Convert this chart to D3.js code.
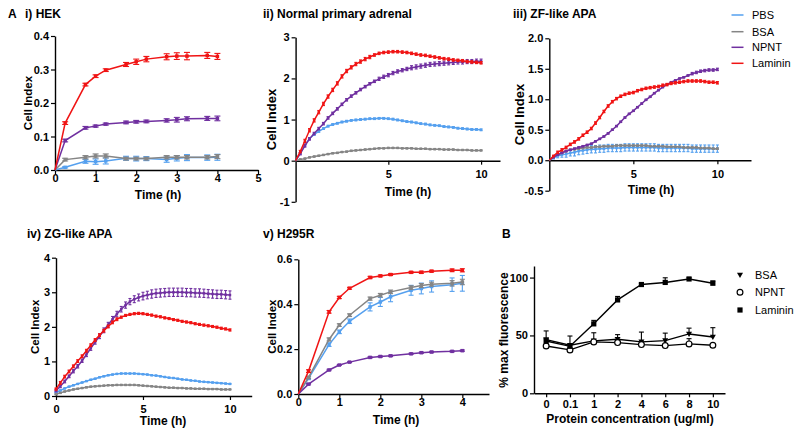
<!DOCTYPE html>
<html lang="en">
<head>
<meta charset="utf-8">
<script src="https://d3js.org/d3.v7.min.js"></script>
<style>
  body { margin: 0; background: #fff; }
  svg text { font-family: "Liberation Sans", Arial, sans-serif; }
</style>
</head>
<body>
<script>

// ---- data ----
let seriesNames = ["PBS", "BSA", "NPNT", "Laminin"];
let seriesColors = ["#55a0ef", "#858585", "#7030a0", "#f01414"];

// sparse time points (panels i and v)
let tShort = [0, 0.25, 0.75, 1, 1.25, 1.75, 2, 2.25, 2.75, 3, 3.25, 3.75, 4];

// dense time points (panels ii, iii, iv)
let tLong = [0, 0.25, 0.5, 0.75, 1, 1.25, 1.5, 1.75, 2, 2.25,
             2.5, 2.75, 3, 3.25, 3.5, 3.75, 4, 4.25, 4.5, 4.75,
             5, 5.25, 5.5, 5.75, 6, 6.25, 6.5, 6.75, 7, 7.25,
             7.5, 7.75, 8, 8.25, 8.5, 8.75, 9, 9.25, 9.5, 9.75, 10];

// i) HEK
let hekPBS     = [0, .008, .026, .025, .027, .035, .034, .034, .031, .035, .037, .037, .038];
let hekPBSErr  = [0, .002, .006, .008, .009, .006, .007, .006, .008, .008, .009, .008, .009];
let hekBSA     = [0, .031, .038, .042, .042, .034, .034, .034, .038, .038, .038, .038, .040];
let hekBSAErr  = [0, .004, .005, .006, .006, .004, .004, .004, .005, .005, .005, .005, .006];
let hekNPNT    = [0, .088, .126, .131, .137, .142, .144, .145, .148, .150, .153, .154, .154];
let hekNPNTErr = [0, .004, .004, .003, .003, .004, .004, .004, .005, .007, .006, .006, .007];
let hekLam     = [0, .140, .255, .280, .298, .315, .323, .331, .338, .340, .340, .342, .339];
let hekLamErr  = [0, .004, .004, .004, .004, .006, .008, .008, .009, .010, .011, .009, .009];

// ii) Normal primary adrenal
let adrPBS = [0, .18, .38, .54, .64, .71, .78, .84, .88, .91,
              .94, .96, .98, .99, 1.0, 1.01, 1.02, 1.02, 1.03, 1.03,
              1.02, 1.01, .99, .97, .95, .94, .92, .9, .89, .87,
              .86, .85, .83, .82, .81, .79, .78, .77, .76, .76, .75];
let adrPBSErr = [0, .02, .02, .02, .02, .02, .02, .02, .02, .02,
                 .02, .02, .02, .02, .02, .02, .02, .02, .02, .02,
                 .02, .02, .02, .02, .02, .02, .02, .02, .02, .02,
                 .02, .02, .02, .02, .02, .02, .02, .02, .02, .02, .02];
let adrBSA = [0, .03, .05, .08, .1, .12, .14, .16, .18, .19,
              .21, .22, .24, .25, .26, .27, .28, .29, .3, .3,
              .31, .31, .31, .3, .3, .3, .29, .29, .29, .28,
              .28, .28, .27, .27, .27, .26, .26, .26, .25, .25, .25];
let adrBSAErr = [0, .01, .01, .01, .01, .01, .01, .01, .01, .01,
                 .01, .01, .01, .01, .01, .01, .01, .01, .01, .01,
                 .01, .01, .01, .01, .01, .01, .01, .01, .01, .01,
                 .01, .01, .01, .01, .01, .01, .01, .01, .01, .01, .01];
let adrNPNT = [0, .17, .36, .53, .66, .78, .9, 1.04, 1.15, 1.26,
               1.37, 1.48, 1.57, 1.65, 1.73, 1.8, 1.87, 1.93, 1.99, 2.04,
               2.08, 2.13, 2.17, 2.2, 2.23, 2.26, 2.28, 2.3, 2.32, 2.34,
               2.35, 2.36, 2.37, 2.38, 2.39, 2.4, 2.4, 2.41, 2.41, 2.42, 2.42];
let adrNPNTErr = [0, .03, .03, .03, .03, .03, .03, .03, .03, .03,
                  .03, .03, .03, .03, .03, .03, .03, .03, .04, .04,
                  .04, .04, .04, .04, .04, .05, .05, .05, .05, .05,
                  .05, .05, .05, .05, .05, .05, .05, .05, .05, .05, .05];
let adrLam = [0, .22, .48, .74, .98, 1.18, 1.38, 1.56, 1.72, 1.88,
              2.05, 2.18, 2.27, 2.35, 2.41, 2.47, 2.52, 2.57, 2.61, 2.63,
              2.64, 2.65, 2.65, 2.64, 2.63, 2.61, 2.59, 2.57, 2.56, 2.54,
              2.52, 2.5, 2.48, 2.47, 2.45, 2.44, 2.43, 2.41, 2.4, 2.39, 2.38];
let adrLamErr = [0, .03, .04, .04, .04, .04, .04, .04, .04, .04,
                 .04, .04, .04, .04, .04, .04, .04, .03, .03, .03,
                 .03, .03, .03, .03, .03, .03, .03, .03, .03, .03,
                 .03, .03, .03, .03, .03, .03, .03, .03, .03, .03, .03];

// iii) ZF-like APA
let zfPBS = [0, .04, .07, .09, .1, .12, .13, .15, .16, .17,
             .18, .18, .19, .19, .2, .2, .2, .2, .21, .21,
             .21, .21, .21, .21, .21, .21, .2, .2, .2, .2,
             .2, .2, .2, .2, .19, .19, .19, .19, .19, .19, .19];
let zfPBSErr = [0, .02, .03, .04, .05, .05, .06, .06, .06, .06,
                .06, .06, .06, .06, .06, .06, .06, .06, .06, .06,
                .06, .06, .06, .06, .06, .06, .06, .06, .06, .06,
                .06, .06, .06, .06, .06, .06, .06, .06, .06, .06, .06];
let zfBSA = [0, .05, .09, .12, .15, .17, .18, .19, .2, .21,
             .21, .22, .22, .23, .23, .23, .24, .24, .24, .24,
             .24, .24, .24, .24, .23, .23, .23, .23, .22, .22,
             .22, .22, .21, .21, .21, .21, .2, .2, .2, .19, .19];
let zfBSAErr = [0, .01, .01, .01, .01, .01, .01, .01, .01, .01,
                .01, .01, .01, .01, .01, .01, .01, .01, .01, .01,
                .01, .01, .01, .01, .01, .01, .01, .01, .01, .01,
                .01, .01, .01, .01, .01, .01, .01, .01, .01, .01, .01];
let zfNPNT = [0, .05, .09, .12, .15, .17, .19, .21, .23, .25,
              .27, .31, .35, .39, .44, .5, .56, .63, .7, .76,
              .81, .87, .93, .99, 1.04, 1.1, 1.15, 1.2, 1.24, 1.28,
              1.31, 1.34, 1.36, 1.39, 1.42, 1.44, 1.46, 1.47, 1.48, 1.48, 1.49];
let zfNPNTErr = [0, .01, .01, .01, .01, .01, .01, .01, .01, .01,
                 .01, .01, .01, .01, .01, .01, .01, .01, .01, .01,
                 .01, .01, .01, .01, .01, .01, .01, .01, .01, .01,
                 .01, .01, .01, .01, .02, .02, .02, .02, .02, .02, .02];
let zfLam = [0, .07, .13, .17, .21, .26, .3, .35, .41, .46,
             .52, .61, .7, .8, .89, .96, 1.01, 1.05, 1.08, 1.1,
             1.11, 1.14, 1.16, 1.18, 1.19, 1.2, 1.21, 1.23, 1.24, 1.26,
             1.27, 1.28, 1.29, 1.3, 1.3, 1.3, 1.3, 1.29, 1.28, 1.28, 1.27];
let zfLamErr = [0, .01, .02, .02, .02, .02, .02, .02, .02, .02,
                .02, .02, .02, .02, .02, .02, .02, .02, .02, .02,
                .02, .02, .02, .02, .02, .02, .02, .02, .02, .02,
                .02, .02, .02, .02, .02, .02, .02, .02, .02, .02, .02];

// iv) ZG-like APA
let zgPBS = [.1, .16, .22, .27, .31, .35, .39, .43, .47, .5,
             .54, .57, .6, .62, .64, .65, .65, .65, .65, .64,
             .63, .62, .6, .59, .57, .55, .53, .52, .5, .48,
             .47, .45, .44, .42, .41, .4, .39, .38, .37, .36, .35];
let zgPBSErr = [.01, .01, .01, .01, .01, .01, .01, .01, .01, .01,
                .01, .01, .01, .01, .01, .01, .01, .01, .01, .01,
                .01, .01, .01, .01, .01, .01, .01, .01, .01, .01,
                .01, .01, .01, .01, .01, .01, .01, .01, .01, .01, .01];
let zgBSA = [.05, .09, .13, .16, .19, .21, .23, .25, .27, .28,
             .29, .3, .31, .31, .32, .32, .32, .32, .32, .31,
             .3, .29, .28, .27, .26, .25, .24, .24, .23, .23,
             .22, .22, .21, .21, .21, .2, .2, .2, .19, .19, .19];
let zgBSAErr = [.01, .01, .01, .01, .01, .01, .01, .01, .01, .01,
                .01, .01, .01, .01, .01, .01, .01, .01, .01, .01,
                .01, .01, .01, .01, .01, .01, .01, .01, .01, .01,
                .01, .01, .01, .01, .01, .01, .01, .01, .01, .01, .01];
let zgNPNT = [.15, .28, .42, .57, .72, .86, 1.02, 1.2, 1.38, 1.56,
              1.73, 1.9, 2.06, 2.22, 2.37, 2.51, 2.63, 2.73, 2.8, 2.85,
              2.89, 2.92, 2.95, 2.97, 2.98, 2.99, 3.0, 3.0, 3.0, 3.0,
              2.99, 2.99, 2.98, 2.98, 2.97, 2.96, 2.95, 2.94, 2.94, 2.93, 2.92];
let zgNPNTErr = [.03, .04, .04, .04, .05, .05, .05, .06, .06, .06,
                 .07, .07, .07, .08, .08, .08, .09, .09, .1, .1,
                 .11, .11, .12, .12, .12, .12, .12, .12, .12, .12,
                 .12, .12, .12, .12, .12, .12, .12, .12, .12, .12, .12];
let zgLam = [.2, .38, .56, .71, .86, 1.01, 1.15, 1.31, 1.47, 1.62,
             1.76, 1.89, 2.01, 2.13, 2.22, 2.28, 2.33, 2.36, 2.38, 2.39,
             2.38, 2.36, 2.34, 2.31, 2.29, 2.26, 2.24, 2.21, 2.19, 2.16,
             2.14, 2.12, 2.09, 2.07, 2.05, 2.03, 2.01, 1.99, 1.96, 1.94, 1.91];
let zgLamErr = [.03, .04, .04, .04, .04, .04, .04, .04, .04, .04,
                .04, .04, .04, .04, .04, .03, .03, .03, .03, .03,
                .03, .03, .03, .03, .03, .03, .03, .03, .03, .03,
                .03, .03, .03, .03, .03, .03, .03, .03, .03, .03, .03];

// v) H295R
let hPBS     = [0, .070, .220, .277, .324, .388, .410, .433, .462, .470, .479, .487, .493];
let hPBSErr  = [0, .006, .008, .008, .010, .018, .020, .022, .022, .024, .025, .030, .035];
let hBSA     = [0, .074, .243, .307, .351, .425, .440, .455, .474, .483, .489, .493, .499];
let hBSAErr  = [0, .005, .007, .006, .006, .007, .008, .008, .008, .009, .009, .012, .012];
let hNPNT    = [0, .044, .107, .129, .142, .163, .167, .170, .179, .184, .187, .190, .193];
let hNPNTErr = [0, .003, .003, .002, .002, .003, .003, .003, .003, .003, .003, .003, .003];
let hLam     = [0, .102, .366, .430, .471, .519, .526, .532, .542, .542, .547, .551, .551];
let hLamErr  = [0, .006, .006, .005, .004, .005, .004, .004, .004, .005, .004, .006, .007];

// B) fluorescence
let concLabels = ["0", "0.1", "1", "2", "4", "6", "8", "10"];
let bNames = ["BSA", "NPNT", "Laminin"];
let bBSA     = [46.4, 41.5, 45.3, 46.7, 44.4, 45.5, 51.3, 48.7];
let bBSAErr  = [7.5, 8, 7, 4, 8.5, 6.5, 5, 8];
let bNPNT    = [40.9, 37.5, 44.4, 43.8, 42.1, 41.2, 42.7, 41.5];
let bNPNTErr = [1.5, 1, 1.5, 2, 1, 1, 4.5, 1];
let bLam     = [45.2, 40.6, 60, 80.7, 94, 95.8, 98.8, 95.1];
let bLamErr  = [2, 2, 3, 3, 1, 4, 1, 2];

// ---- drawing ----
let svg = d3.select("body").append("svg")
            .attr("width", 800)
            .attr("height", 434);

function styleAxis(sel) {
    sel.select(".domain").attr("stroke", "#000").attr("stroke-width", 1.4);
    sel.selectAll(".tick line").attr("stroke", "#000").attr("stroke-width", 1.2);
    sel.selectAll(".tick text")
        .attr("font-size", 11)
        .attr("font-weight", "bold")
        .attr("fill", "#000")
        .attr("font-family", "Liberation Sans, Arial, sans-serif");
}

function txt(x, y, s, size, bold, anchor) {
    return svg.append("text")
        .attr("x", x).attr("y", y)
        .attr("font-size", size)
        .attr("font-weight", bold ? "bold" : "normal")
        .attr("text-anchor", anchor || "start")
        .text(s);
}

function yTitle(x, y, s, size) {
    svg.append("text")
        .attr("transform", "translate(" + x + "," + y + ") rotate(-90)")
        .attr("text-anchor", "middle")
        .attr("dominant-baseline", "central")
        .attr("font-size", size || 12)
        .attr("font-weight", "bold")
        .text(s);
}

function drawPanel(p) {
    let x = d3.scaleLinear().domain([0, p.xMax]).range(p.xRange);
    let y = d3.scaleLinear().domain(p.yDomain).range(p.yRange);
    let g = svg.append("g");

    let axisY = p.zeroAxis ? y(0) : p.yRange[0];
    g.append("g")
        .attr("transform", "translate(0," + axisY + ")")
        .call(d3.axisBottom(x).tickValues(p.xTicks).tickSize(4).tickSizeOuter(0)
              .tickPadding(p.xPad).tickFormat(function(d) { return String(d); }))
        .call(styleAxis);

    g.append("g")
        .attr("transform", "translate(" + p.xRange[0] + ",0)")
        .call(d3.axisLeft(y).tickValues(p.yTicks).tickSize(4).tickSizeOuter(0)
              .tickPadding(2).tickFormat(p.yFormat))
        .call(styleAxis);

    let line = d3.line()
        .x(function(d) { return x(d.t); })
        .y(function(d) { return y(d.v); });

    p.series.forEach(function(s, k) {
        let color = seriesColors[k];
        let pts = p.times.map(function(t, i) {
            return { t: t, v: s[0][i], e: s[1][i] };
        });

        g.append("path")
            .datum(pts)
            .attr("fill", "none")
            .attr("stroke", color)
            .attr("stroke-width", 1.5)
            .attr("d", line);

        let eb = g.append("g").attr("stroke", color).attr("stroke-width", 1.1);
        pts.filter(function(d) { return d.e > 0; }).forEach(function(d) {
            let cx = x(d.t), y1 = y(d.v + d.e), y2 = y(d.v - d.e);
            eb.append("line").attr("x1", cx).attr("x2", cx).attr("y1", y1).attr("y2", y2);
            eb.append("line").attr("x1", cx - p.cap / 2).attr("x2", cx + p.cap / 2).attr("y1", y1).attr("y2", y1);
            eb.append("line").attr("x1", cx - p.cap / 2).attr("x2", cx + p.cap / 2).attr("y1", y2).attr("y2", y2);
        });

        g.selectAll(null)
            .data(pts.filter(function(d, i) { return i > 0 || d.v > 0; }))
            .join("rect")
            .attr("x", function(d) { return x(d.t) - p.marker / 2; })
            .attr("y", function(d) { return y(d.v) - p.marker / 2; })
            .attr("width", p.marker)
            .attr("height", p.marker)
            .attr("fill", color);
    });

    txt(p.titleX, p.titleY, p.title, 12, true);
    txt(p.timeX, p.timeY, "Time (h)", 12, true, "middle");
    yTitle(p.cellX, (p.yRange[0] + p.yRange[1]) / 2, "Cell Index", p.cellSize);
}

let f1 = function(d) { return d.toFixed(1); };
let fInt = function(d) { return String(d); };

drawPanel({
    title: "i) HEK", titleX: 25, titleY: 18,
    xMax: 5, xRange: [55, 258], yDomain: [0, 0.4], yRange: [170, 36],
    xTicks: [0, 1, 2, 3, 4, 5], yTicks: [0, 0.1, 0.2, 0.3, 0.4], yFormat: f1,
    xPad: 0, zeroAxis: false, times: tShort, marker: 3.5, cap: 6,
    timeX: 158, timeY: 199, cellX: 28, cellSize: 11.5,
    series: [[hekPBS, hekPBSErr], [hekBSA, hekBSAErr], [hekNPNT, hekNPNTErr], [hekLam, hekLamErr]]
});

drawPanel({
    title: "ii) Normal primary adrenal", titleX: 263, titleY: 18,
    xMax: 11.02, xRange: [295.6, 500], yDomain: [-1, 3], yRange: [201.8, 37.3],
    xTicks: [5, 10], yTicks: [-1, 0, 1, 2, 3], yFormat: fInt,
    xPad: 6, zeroAxis: true, times: tLong, marker: 2.5, cap: 3,
    timeX: 408, timeY: 196, cellX: 271, cellSize: 13,
    series: [[adrPBS, adrPBSErr], [adrBSA, adrBSAErr], [adrNPNT, adrNPNTErr], [adrLam, adrLamErr]]
});

drawPanel({
    title: "iii) ZF-like APA", titleX: 513, titleY: 18,
    xMax: 12.0, xRange: [549.3, 751], yDomain: [-0.5, 2], yRange: [190.7, 38.3],
    xTicks: [5, 10], yTicks: [-0.5, 0, 0.5, 1, 1.5, 2], yFormat: f1,
    xPad: 6, zeroAxis: true, times: tLong, marker: 2.5, cap: 3,
    timeX: 651, timeY: 194, cellX: 519, cellSize: 13,
    series: [[zfPBS, zfPBSErr], [zfBSA, zfBSAErr], [zfNPNT, zfNPNTErr], [zfLam, zfLamErr]]
});

drawPanel({
    title: "iv) ZG-like APA", titleX: 27, titleY: 238,
    xMax: 11.25, xRange: [56, 251.7], yDomain: [0, 4], yRange: [396, 257.7],
    xTicks: [0, 5, 10], yTicks: [0, 1, 2, 3, 4], yFormat: fInt,
    xPad: 5, zeroAxis: false, times: tLong, marker: 2.5, cap: 3,
    timeX: 163, timeY: 425, cellX: 35, cellSize: 11.5,
    series: [[zgPBS, zgPBSErr], [zgBSA, zgBSAErr], [zgNPNT, zgNPNTErr], [zgLam, zgLamErr]]
});

drawPanel({
    title: "v) H295R", titleX: 263, titleY: 238,
    xMax: 4.65, xRange: [298.3, 489], yDomain: [0, 0.6], yRange: [394, 259.3],
    xTicks: [0, 1, 2, 3, 4], yTicks: [0, 0.2, 0.4, 0.6], yFormat: f1,
    xPad: 0.5, zeroAxis: false, times: tShort, marker: 3.5, cap: 5,
    timeX: 396, timeY: 423.5, cellX: 272, cellSize: 11.5,
    series: [[hPBS, hPBSErr], [hBSA, hBSAErr], [hNPNT, hNPNTErr], [hLam, hLamErr]]
});

txt(8, 18, "A", 12, true);
txt(502, 238, "B", 12, true);

// legend for panel A
let legA = [15, 31.7, 47.3, 63.3];
seriesNames.forEach(function(n, i) {
    svg.append("line")
        .attr("x1", 731.5).attr("x2", 743.5)
        .attr("y1", legA[i]).attr("y2", legA[i])
        .attr("stroke", seriesColors[i]).attr("stroke-width", 1.5);
    txt(752, legA[i] + 4, n, 11, false);
});

// ---- panel B ----
let bx = d3.scalePoint().domain(concLabels).range([534, 725]).padding(0.51);
let by = d3.scaleLinear().domain([0, 110]).range([393.3, 266]);
let gB = svg.append("g");

gB.append("g")
    .attr("transform", "translate(0,393.3)")
    .call(d3.axisBottom(bx).tickSize(4).tickSizeOuter(0).tickPadding(3))
    .call(styleAxis);
gB.append("g")
    .attr("transform", "translate(534,0)")
    .call(d3.axisLeft(by).tickValues([0, 50, 100]).tickSize(4).tickSizeOuter(0).tickPadding(2))
    .call(styleAxis);

let bSeries = [[bBSA, bBSAErr, "tri"], [bNPNT, bNPNTErr, "circ"], [bLam, bLamErr, "sq"]];

function marker(g, kind, cx, cy) {
    if (kind === "sq") {
        g.append("rect").attr("x", cx - 2.6).attr("y", cy - 2.6)
            .attr("width", 5.2).attr("height", 5.2).attr("fill", "#000");
    } else if (kind === "circ") {
        g.append("circle").attr("cx", cx).attr("cy", cy).attr("r", 2.9)
            .attr("fill", "#fff").attr("stroke", "#000").attr("stroke-width", 1.2);
    } else {
        g.append("path")
            .attr("d", "M" + (cx - 3) + "," + (cy - 2.3) + "L" + (cx + 3) + "," + (cy - 2.3) + "L" + cx + "," + (cy + 3) + "Z")
            .attr("fill", "#000");
    }
}

let bLine = d3.line()
    .x(function(d) { return bx(d.c); })
    .y(function(d) { return by(d.v); });

bSeries.forEach(function(s) {
    let pts = concLabels.map(function(c, i) { return { c: c, v: s[0][i], e: s[1][i] }; });
    gB.append("path").datum(pts)
        .attr("fill", "none").attr("stroke", "#000").attr("stroke-width", 1.4)
        .attr("d", bLine);
    pts.forEach(function(d) {
        let cx = bx(d.c), y0 = by(d.v), y1 = by(d.v + d.e);
        gB.append("line").attr("x1", cx).attr("x2", cx).attr("y1", y0).attr("y2", y1)
            .attr("stroke", "#000").attr("stroke-width", 1.1);
        gB.append("line").attr("x1", cx - 2.5).attr("x2", cx + 2.5).attr("y1", y1).attr("y2", y1)
            .attr("stroke", "#000").attr("stroke-width", 1.1);
    });
});
bSeries.forEach(function(s) {
    concLabels.forEach(function(c, i) { marker(gB, s[2], bx(c), by(s[0][i])); });
});

txt(630, 423, "Protein concentration (ug/ml)", 12, true, "middle");
yTitle(504, 330, "% max fluorescence", 12);

let legB = [275, 292.3, 310];
bNames.forEach(function(n, i) {
    marker(svg, bSeries[i][2], 740, legB[i]);
    txt(755, legB[i] + 4, n, 11, false);
});

</script>
</body>
</html>
